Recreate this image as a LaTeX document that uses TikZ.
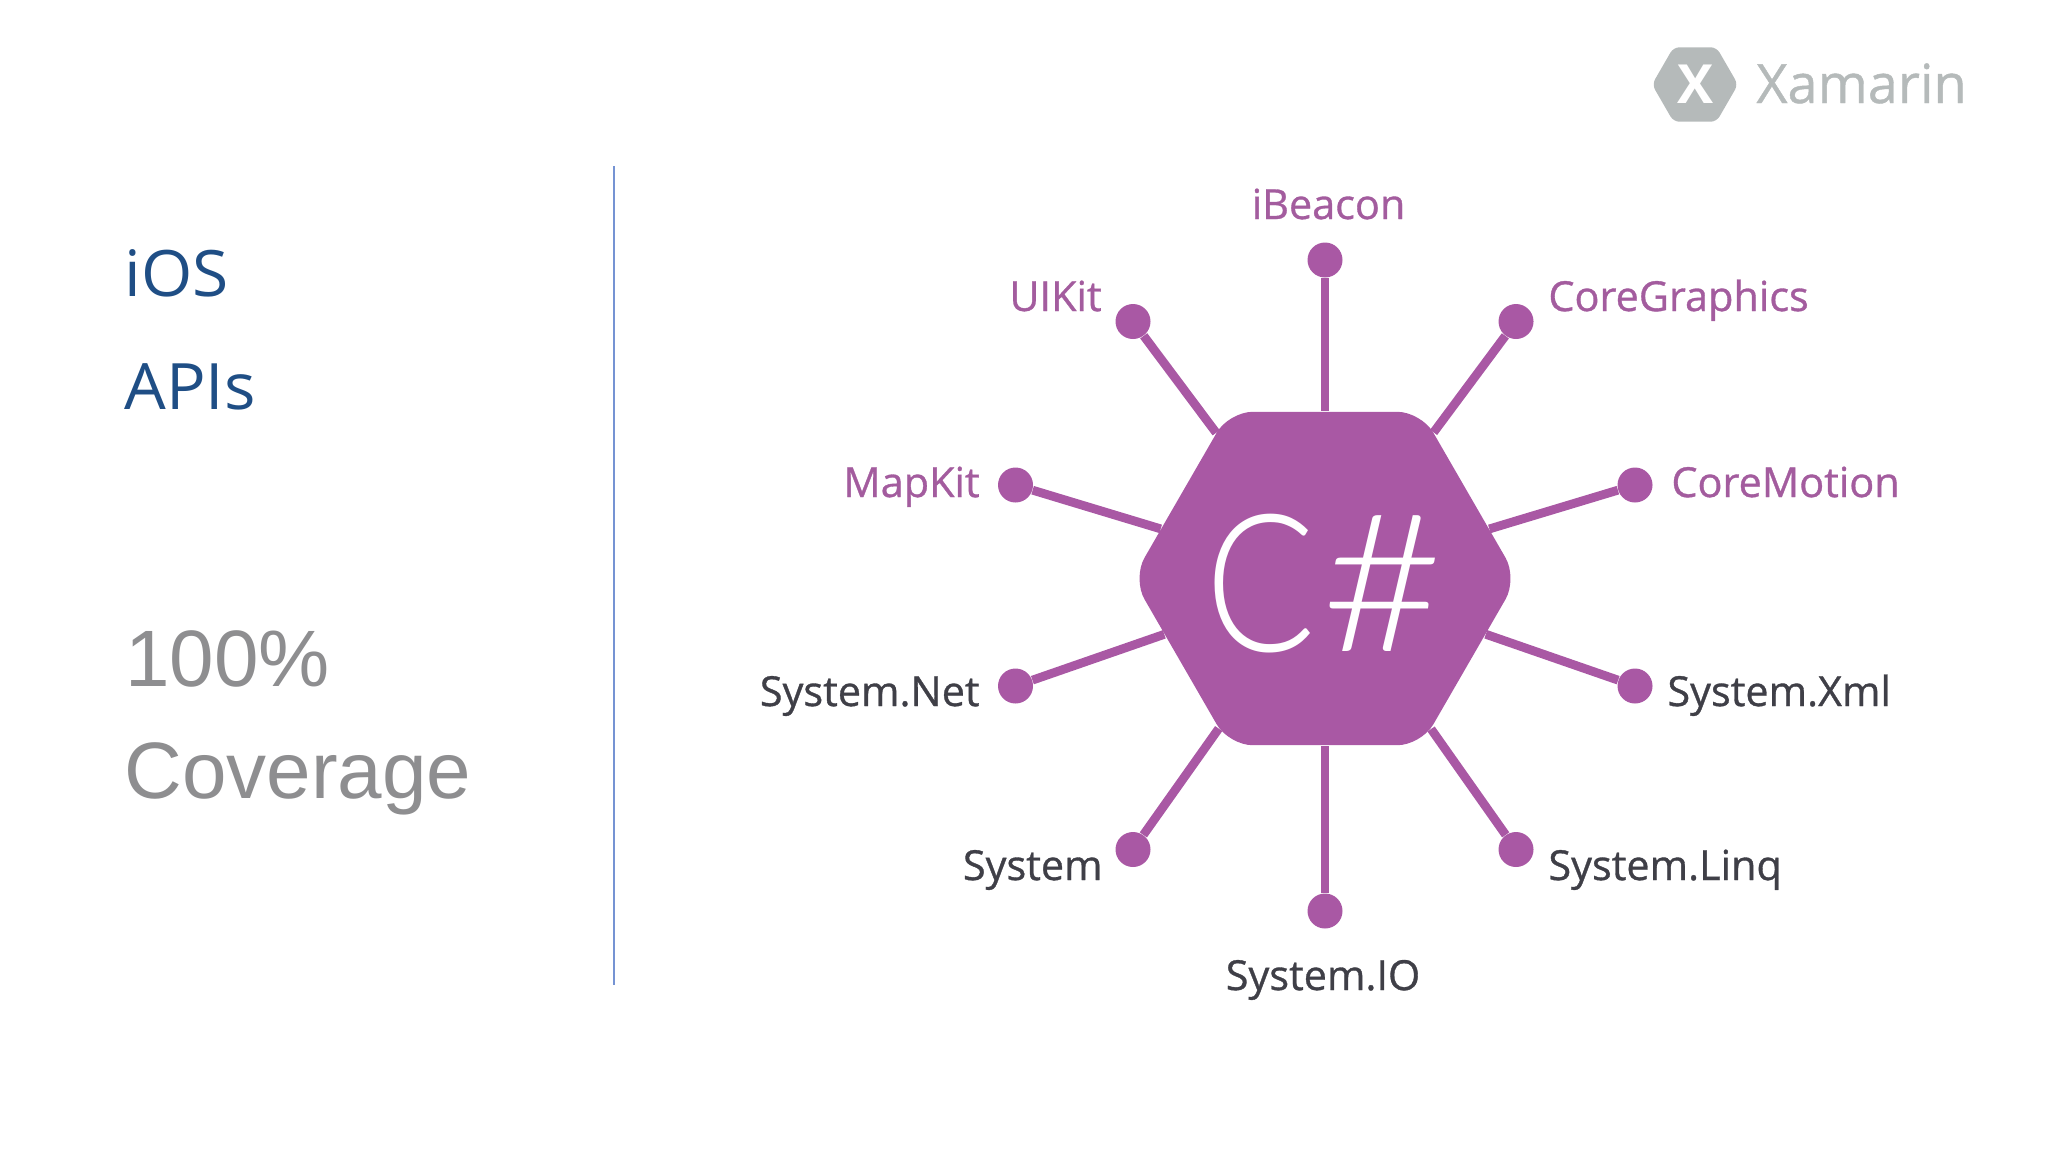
\documentclass[tikz,border=0pt]{standalone}
\usepackage{fontspec}
\setmainfont{Open Sans}
\setsansfont{Liberation Sans}
\newfontfamily\hubfont{Lato Light}
\newfontfamily\labelfont[FakeBold=0.8]{Open Sans}
\usetikzlibrary{shapes.geometric}
\definecolor{hubpurple}{HTML}{A958A4}
\definecolor{labelpurple}{HTML}{A35C9E}
\definecolor{labeldark}{HTML}{3F3F47}
\definecolor{titleblue}{HTML}{1F4E85}
\definecolor{titlegrey}{HTML}{8E8E90}
\definecolor{rulecolor}{HTML}{7593D3}
\definecolor{logogrey}{HTML}{B5BABA}
\tikzset{
  apilabel/.style = {inner sep=0, font=\labelfont\fontsize{20.7}{24}\selectfont},
  purplelabel/.style = {apilabel, text=labelpurple},
  darklabel/.style = {apilabel, text=labeldark},
  apidot/.style = {shape=circle, fill=hubpurple, inner sep=0, minimum size=17.5pt},
  spoke/.style = {draw=hubpurple, line width=4.4pt},
  hexagon/.style = {shape=regular polygon, regular polygon sides=6, inner sep=0},
  slidetitle/.style = {inner sep=0, anchor=base west, xscale=1.03, transform shape,
    font=\fontsize{32}{36}\selectfont, text=titleblue},
  slidecover/.style = {inner sep=0, anchor=base west,
    font=\sffamily\fontsize{40}{44}\selectfont, text=titlegrey}
}
\begin{document}
\begin{tikzpicture}[x=0.5pt, y=-0.5pt]
  \useasboundingbox (0,0) rectangle (2048,1152);
  % left column
  \node[slidetitle] (ios) at (124,296) {iOS};
  \node[slidetitle] (apis) at (124,409) {APIs};
  \node[slidecover] (hundred) at (125,686) {100\%};
  \node[slidecover] (coverage) at (124,798) {Coverage};
  \coordinate (ruletop) at (614,166);
  \coordinate (rulebottom) at (614,985);
  \draw[rulecolor, line width=0.7pt] (ruletop) -- (rulebottom);
  % logo
  \node[hexagon, fill=logogrey, minimum size=43pt, rounded corners=3pt] (logo)
    at (1695,84.5) {};
  \node[inner sep=0, text=white, font=\bfseries\fontsize{27}{30}\selectfont] (logox)
    at (logo) {X};
  \node[inner sep=0, anchor=base west, text=logogrey,
    font=\labelfont\fontsize{27}{30}\selectfont] (xamarin) at (1756,103) {Xamarin};
  % hub
  \node[hexagon, fill=hubpurple, minimum size=192.5pt, rounded corners=12pt] (hub)
    at (1325,578.5) {};
  \node[inner sep=0, text=white, font=\hubfont\fontsize{96}{110}\selectfont] (hubtext)
    at (1325,584) {\scalebox{0.85}[1]{C}\kern3pt\scalebox{1.1}[1]{\#}};
  % dots
  \node[apidot] (ibeacondot) at (1325,260) {};
  \node[apidot] (uikitdot) at (1133,321.5) {};
  \node[apidot] (graphicsdot) at (1516,321.5) {};
  \node[apidot] (mapkitdot) at (1015.5,485) {};
  \node[apidot] (motiondot) at (1635,485) {};
  \node[apidot] (netdot) at (1015.5,686) {};
  \node[apidot] (xmldot) at (1635,686) {};
  \node[apidot] (systemdot) at (1133,849.5) {};
  \node[apidot] (linqdot) at (1516,849.5) {};
  \node[apidot] (iodot) at (1325,911) {};
  \foreach \dotname in {ibeacondot,uikitdot,graphicsdot,mapkitdot,motiondot,
      netdot,xmldot,systemdot,linqdot,iodot}
    \draw[spoke] (\dotname) -- (hub);
  % labels
  \node[purplelabel, anchor=base] (ibeacon) at (1328.5,219) {iBeacon};
  \node[purplelabel, anchor=base east] (uikit) at (1102,311) {UIKit};
  \node[purplelabel, anchor=base west] (graphics) at (1548,311) {CoreGraphics};
  \node[purplelabel, anchor=base east] (mapkit) at (980,497) {MapKit};
  \node[purplelabel, anchor=base west] (motion) at (1671,497) {CoreMotion};
  \node[darklabel, anchor=base east] (net) at (980,706) {System.Net};
  \node[darklabel, anchor=base west] (xml) at (1667,706) {System.Xml};
  \node[darklabel, anchor=base east] (system) at (1103,880) {System};
  \node[darklabel, anchor=base west] (linq) at (1548,880) {System.Linq};
  \node[darklabel, anchor=base] (io) at (1323,990) {System.IO};
\end{tikzpicture}
\end{document}
